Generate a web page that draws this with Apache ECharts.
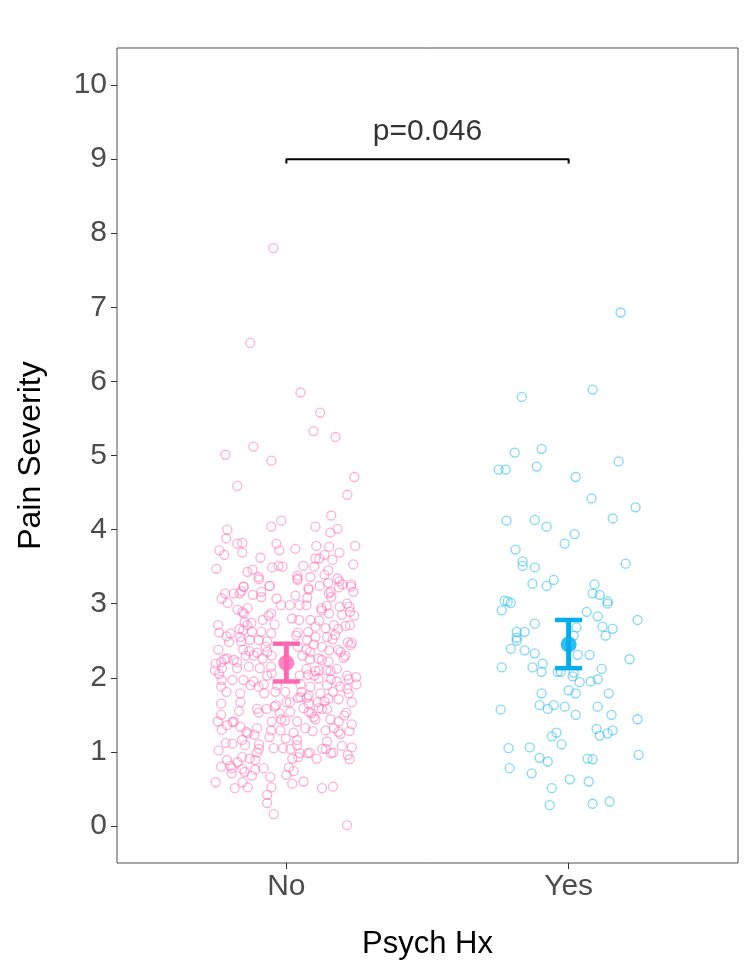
<!DOCTYPE html>
<html>
<head>
<meta charset="utf-8">
<title>Pain Severity by Psych Hx</title>
<script src="https://cdn.jsdelivr.net/npm/echarts@6/dist/echarts.min.js"></script>
<style>
  html, body { margin: 0; padding: 0; background: #fff; }
  #chart { width: 750px; height: 975px; }
</style>
</head>
<body>
<div id="chart"></div>
<script>
// groups on the x axis (positions 1 and 2)
const groups = ['No', 'Yes'];
const yTicks = [0, 1, 2, 3, 4, 5, 6, 7, 8, 9, 10];

// jittered points: [horizontal jitter from group centre, pain severity]
const noPoints = [
  [-0.046, 7.80], [-0.128, 6.52], [0.050, 5.85], [0.120, 5.58], [0.096, 5.33], [0.174, 5.25],
  [-0.117, 5.12], [-0.216, 5.01], [-0.053, 4.93], [0.241, 4.71],
  [-0.174, 4.59], [0.216, 4.47], [0.159, 4.19], [-0.018, 4.12], [-0.053, 4.04], [0.103, 4.04],
  [-0.209, 4.00], [0.181, 4.01], [0.156, 3.96], [-0.213, 3.88], [-0.174, 3.81], [-0.156, 3.82],
  [-0.035, 3.81], [0.106, 3.78], [0.244, 3.78], [-0.237, 3.72], [-0.156, 3.69], [-0.025, 3.72],
  [0.032, 3.74], [0.152, 3.77], [-0.220, 3.66], [0.188, 3.69], [0.135, 3.66], [-0.092, 3.62],
  [0.103, 3.61], [0.117, 3.61], [0.163, 3.59], [-0.248, 3.47], [-0.138, 3.43], [-0.120, 3.46],
  [-0.050, 3.49], [-0.028, 3.51], [-0.014, 3.50], [0.060, 3.51], [0.099, 3.50], [0.237, 3.53],
  [0.149, 3.45], [-0.099, 3.36], [0.039, 3.38], [0.039, 3.34], [0.085, 3.36], [0.135, 3.39],
  [0.181, 3.34], [0.188, 3.30], [-0.152, 3.23], [-0.060, 3.24], [0.078, 3.21], [0.230, 3.26],
  [0.198, 3.26],
  [-0.151, 3.23], [-0.186, 3.14], [-0.165, 3.14], [-0.160, 3.17], [-0.217, 3.14], [-0.229, 3.07],
  [-0.208, 3.01], [-0.119, 3.12], [-0.089, 3.16], [-0.089, 3.09], [-0.059, 3.24], [-0.035, 3.07],
  [-0.019, 2.98], [0.012, 2.98], [0.032, 3.11], [0.047, 2.98], [0.071, 2.98], [0.074, 3.08],
  [0.079, 3.19], [-0.097, 3.33], [0.040, 3.32], [0.150, 3.14], [0.157, 3.16], [0.159, 3.09],
  [0.186, 3.22], [0.237, 3.16], [0.229, 3.23], [0.148, 3.28], [0.118, 3.24],
  [-0.137, 2.94], [-0.173, 2.92], [-0.156, 2.89], [-0.151, 2.87], [-0.054, 2.87], [-0.063, 2.84],
  [-0.084, 2.78], [0.124, 2.94], [0.125, 2.91], [0.143, 2.97], [0.189, 2.96], [0.215, 3.00],
  [0.223, 2.96], [0.225, 2.89], [0.241, 2.84], [0.197, 2.85], [0.151, 2.87], [0.085, 2.78],
  [0.116, 2.77], [0.045, 2.78], [0.020, 2.80], [-0.242, 2.71], [-0.148, 2.75], [-0.124, 2.74],
  [-0.139, 2.71], [-0.042, 2.72],
  [-0.166, 2.66], [-0.153, 2.64], [-0.122, 2.62], [-0.089, 2.62], [-0.053, 2.60], [0.040, 2.61],
  [0.077, 2.62], [0.103, 2.69], [0.139, 2.67], [0.168, 2.71], [0.183, 2.66], [0.209, 2.70],
  [0.225, 2.71], [-0.238, 2.61], [-0.212, 2.56], [-0.198, 2.60], [-0.203, 2.48], [-0.163, 2.55],
  [-0.160, 2.49], [-0.129, 2.51], [-0.098, 2.51], [-0.068, 2.49], [0.035, 2.57], [0.073, 2.51],
  [0.103, 2.55], [0.144, 2.55], [0.173, 2.58], [0.164, 2.52], [0.218, 2.48], [0.232, 2.47],
  [0.227, 2.44], [0.097, 2.45],
  [-0.241, 2.38], [-0.153, 2.38], [-0.131, 2.36], [-0.104, 2.34], [-0.073, 2.42], [-0.068, 2.35],
  [-0.116, 2.30], [-0.144, 2.30], [-0.084, 2.26], [-0.052, 2.30], [-0.219, 2.25], [-0.210, 2.26],
  [-0.186, 2.24], [-0.175, 2.21], [-0.250, 2.19], [-0.231, 2.21], [0.041, 2.42], [0.071, 2.38],
  [0.085, 2.35], [0.126, 2.42], [0.152, 2.37], [0.183, 2.38], [0.192, 2.35], [0.057, 2.30],
  [0.083, 2.25], [0.114, 2.26], [0.126, 2.24], [0.149, 2.22], [0.203, 2.27], [0.209, 2.30],
  [-0.253, 2.10], [-0.228, 2.13], [-0.238, 2.05], [-0.175, 2.13], [-0.133, 2.15], [-0.094, 2.13],
  [-0.054, 2.15], [0.071, 2.12], [0.103, 2.09], [0.116, 2.10], [0.142, 2.10], [0.156, 2.09],
  [0.179, 2.12], [0.215, 2.03], [0.247, 2.01], [-0.191, 1.97], [-0.152, 1.97], [-0.116, 1.95],
  [-0.068, 2.03], [-0.052, 2.06], [0.047, 2.03], [0.077, 2.04], [0.099, 2.03], [0.114, 1.99],
  [0.158, 1.98], [0.179, 1.95], [0.221, 1.98], [0.248, 1.91], [-0.229, 1.97], [-0.231, 1.88],
  [-0.127, 1.90], [-0.098, 1.88], [-0.080, 1.91], [-0.033, 1.90], [0.050, 1.91], [0.085, 1.88],
  [0.144, 1.90], [0.191, 1.88], [0.215, 1.85],
  [-0.212, 1.81], [-0.163, 1.79], [-0.078, 1.79], [-0.039, 1.81], [-0.004, 1.81], [0.053, 1.81],
  [0.079, 1.76], [0.120, 1.79], [0.165, 1.81], [0.221, 1.79],
  [0.050, 1.74], [0.073, 1.73], [0.041, 1.73], [0.000, 1.67], [0.012, 1.67], [-0.037, 1.63],
  [-0.042, 1.61], [0.111, 1.67], [0.135, 1.68], [0.149, 1.72], [0.232, 1.67], [0.185, 1.71],
  [-0.231, 1.65], [-0.163, 1.67], [-0.070, 1.58], [-0.104, 1.58], [-0.098, 1.53], [-0.168, 1.55],
  [-0.231, 1.50], [-0.243, 1.41], [-0.210, 1.36], [-0.191, 1.40], [-0.186, 1.41], [-0.163, 1.34],
  [-0.052, 1.41], [-0.018, 1.44], [-0.005, 1.42], [-0.024, 1.52], [0.038, 1.41], [0.014, 1.54],
  [0.079, 1.54], [0.089, 1.52], [0.097, 1.47], [0.103, 1.44], [0.061, 1.59], [0.114, 1.59],
  [0.126, 1.58], [0.144, 1.58], [0.156, 1.44], [0.185, 1.41], [0.205, 1.49], [0.212, 1.53],
  [0.232, 1.37], [0.079, 1.65],
  [-0.229, 1.30], [-0.142, 1.27], [-0.137, 1.25], [-0.104, 1.32], [-0.054, 1.29], [-0.021, 1.29],
  [0.026, 1.26], [0.067, 1.32], [0.093, 1.28], [0.139, 1.29], [0.168, 1.32], [0.185, 1.27],
  [0.191, 1.24], [0.224, 1.28], [-0.113, 1.23], [-0.060, 1.20], [-0.002, 1.18], [0.038, 1.16],
  [0.144, 1.14], [-0.191, 1.11], [-0.157, 1.16], [-0.146, 1.09], [-0.097, 1.10], [-0.214, 1.12],
  [-0.240, 1.02], [-0.097, 1.04], [-0.104, 0.99], [-0.045, 1.05], [-0.012, 1.05], [0.014, 1.04],
  [0.038, 1.09], [0.048, 0.98], [0.042, 0.93], [0.076, 0.98], [0.083, 0.99], [0.107, 0.91],
  [0.127, 1.04], [0.140, 1.04], [0.158, 0.98], [0.166, 0.99], [0.197, 1.08], [0.232, 1.06],
  [0.217, 0.96], [0.224, 0.90], [-0.157, 0.93], [-0.130, 0.91], [-0.173, 0.86], [-0.210, 0.89],
  [-0.231, 0.80], [-0.110, 0.89], [0.021, 0.91],
  [-0.198, 0.81], [-0.192, 0.78], [-0.194, 0.71], [-0.156, 0.77], [-0.148, 0.73], [-0.111, 0.76],
  [-0.081, 0.78], [-0.122, 0.68], [-0.155, 0.59], [-0.183, 0.51], [-0.137, 0.52], [-0.251, 0.59],
  [-0.057, 0.66], [-0.053, 0.52], [0.000, 0.69], [0.009, 0.79], [0.026, 0.74], [0.061, 0.60],
  [0.021, 0.57], [0.126, 0.51], [0.165, 0.53],
  [-0.068, 0.42], [-0.068, 0.31], [-0.045, 0.16], [0.215, 0.01]
];

const yesPoints = [
  [0.184, 6.93], [0.085, 5.89], [-0.166, 5.79], [-0.096, 5.09], [-0.191, 5.04], [-0.248, 4.81],
  [-0.223, 4.81], [-0.113, 4.85], [0.177, 4.92], [0.025, 4.71], [0.081, 4.42], [0.237, 4.30],
  [-0.220, 4.12], [-0.120, 4.13], [-0.078, 4.04], [0.156, 4.15], [0.021, 3.94], [-0.014, 3.81],
  [-0.188, 3.73], [-0.163, 3.57], [-0.163, 3.51], [-0.120, 3.49], [0.202, 3.54], [-0.128, 3.27],
  [-0.078, 3.24], [-0.053, 3.32], [0.092, 3.26], [0.085, 3.14], [0.110, 3.12], [0.138, 3.03],
  [0.138, 3.00], [-0.227, 3.04], [-0.216, 3.03], [-0.205, 3.01], [-0.237, 2.91], [0.064, 2.89],
  [0.103, 2.83], [0.244, 2.78], [-0.120, 2.73], [0.028, 2.68], [0.120, 2.69], [0.156, 2.66],
  [0.131, 2.57], [-0.184, 2.62], [-0.156, 2.62], [-0.184, 2.54], [-0.184, 2.50], [0.018, 2.57],
  [-0.205, 2.39], [-0.156, 2.37], [-0.120, 2.33], [0.032, 2.31], [0.074, 2.31], [0.216, 2.25],
  [-0.237, 2.14], [-0.128, 2.14], [-0.092, 2.19], [-0.096, 2.08], [-0.039, 2.08], [-0.028, 2.08],
  [0.018, 2.07], [0.014, 2.02], [0.039, 1.94], [0.078, 1.95], [0.103, 1.98], [0.117, 2.12],
  [-0.096, 1.79], [0.000, 1.83], [0.025, 1.79], [0.142, 1.79], [-0.241, 1.57], [-0.103, 1.63],
  [-0.074, 1.58], [-0.053, 1.63], [-0.014, 1.61], [0.025, 1.50], [0.103, 1.61], [0.152, 1.50],
  [0.244, 1.44], [-0.043, 1.26], [-0.060, 1.21], [-0.025, 1.10], [0.099, 1.31], [0.110, 1.22],
  [0.138, 1.25], [0.156, 1.29], [-0.213, 1.05], [-0.138, 1.06], [-0.103, 0.92], [-0.074, 0.87],
  [0.067, 0.91], [0.085, 0.90], [0.248, 0.96], [-0.209, 0.78], [-0.131, 0.71], [0.004, 0.63],
  [0.071, 0.60], [-0.060, 0.51], [-0.067, 0.28], [0.085, 0.30], [0.145, 0.33]
];

// group means with error bar limits
const means = [2.20, 2.45];
const lowers = [1.95, 2.13];
const uppers = [2.46, 2.78];

const pValueText = 'p=0.046';
const bracketHeight = 9;

const pinkPt = 'rgba(255,105,180,0.65)';
const bluePt = 'rgba(0,176,240,0.62)';
const pinkBar = '#FF69B4';
const blueBar = '#00AEEF';
const barColors = [pinkBar, blueBar];
const font = 'Liberation Sans, Arial, sans-serif';

const chart = echarts.init(document.getElementById('chart'));

const jitter = (pts, g) => pts.map(p => [g + p[0], p[1]]);

const option = {
  animation: false,
  backgroundColor: '#fff',
  grid: {
    left: 117, right: 12, top: 48, bottom: 112,
    show: true, borderColor: '#4d4d4d', borderWidth: 1
  },
  xAxis: {
    type: 'value', min: 0.4, max: 2.6,
    name: 'Psych Hx', nameLocation: 'middle', nameGap: 66,
    nameTextStyle: { fontSize: 31, color: '#000', fontFamily: font },
    axisLine: { show: false, onZero: false },
    splitLine: { show: false },
    axisTick: { show: true, length: 6, customValues: [1, 2], lineStyle: { color: '#333' } },
    axisLabel: {
      customValues: [1, 2], fontSize: 30, color: '#4d4d4d', fontFamily: font, margin: 9,
      formatter: v => groups[Math.round(v) - 1]
    }
  },
  yAxis: {
    type: 'value', min: -0.5, max: 10.5,
    name: 'Pain Severity', nameLocation: 'middle', nameGap: 70, nameRotate: 90,
    nameTextStyle: { fontSize: 32, color: '#000', fontFamily: font },
    axisLine: { show: false, onZero: false },
    splitLine: { show: false },
    axisTick: { show: true, length: 6, customValues: yTicks, lineStyle: { color: '#333' } },
    axisLabel: { customValues: yTicks, fontSize: 30, color: '#4d4d4d', fontFamily: font, margin: 10 }
  },
  series: [
    {
      type: 'scatter', data: jitter(noPoints, 1), symbol: 'circle', symbolSize: 9, z: 3,
      itemStyle: { color: 'rgba(255,255,255,0)', borderColor: pinkPt, borderWidth: 1.3 }
    },
    {
      type: 'scatter', data: jitter(yesPoints, 2), symbol: 'circle', symbolSize: 9, z: 3,
      itemStyle: { color: 'rgba(255,255,255,0)', borderColor: bluePt, borderWidth: 1.3 }
    },
    {
      type: 'custom',
      data: groups.map((g, i) => [i + 1, lowers[i], uppers[i]]),
      renderItem: function (params, api) {
        const x = api.value(0);
        const top = api.coord([x, api.value(2)]);
        const bot = api.coord([x, api.value(1)]);
        const half = api.coord([x + 0.048, 0])[0] - top[0];
        const c = barColors[params.dataIndex];
        return {
          type: 'group',
          children: [
            { type: 'line', shape: { x1: top[0], y1: top[1], x2: bot[0], y2: bot[1] }, style: { stroke: c, lineWidth: 5 } },
            { type: 'line', shape: { x1: top[0] - half, y1: top[1], x2: top[0] + half, y2: top[1] }, style: { stroke: c, lineWidth: 4.5 } },
            { type: 'line', shape: { x1: bot[0] - half, y1: bot[1], x2: bot[0] + half, y2: bot[1] }, style: { stroke: c, lineWidth: 4.5 } }
          ]
        };
      },
      z: 5, silent: true
    },
    {
      type: 'scatter',
      data: means.map((m, i) => ({ value: [i + 1, m], itemStyle: { color: barColors[i] } })),
      symbol: 'circle', symbolSize: 16, z: 6, silent: true
    },
    {
      type: 'line',
      data: [[1, bracketHeight - 0.06], [1, bracketHeight], [2, bracketHeight], [2, bracketHeight - 0.06]],
      symbol: 'none', lineStyle: { color: '#000', width: 2 }, z: 6, silent: true
    },
    {
      type: 'scatter',
      data: [[1.5, bracketHeight + 0.37]],
      symbolSize: 0, silent: true,
      label: { show: true, position: 'inside', formatter: pValueText, fontSize: 30, color: '#000', fontFamily: font }
    }
  ]
};

chart.setOption(option);
</script>
</body>
</html>
